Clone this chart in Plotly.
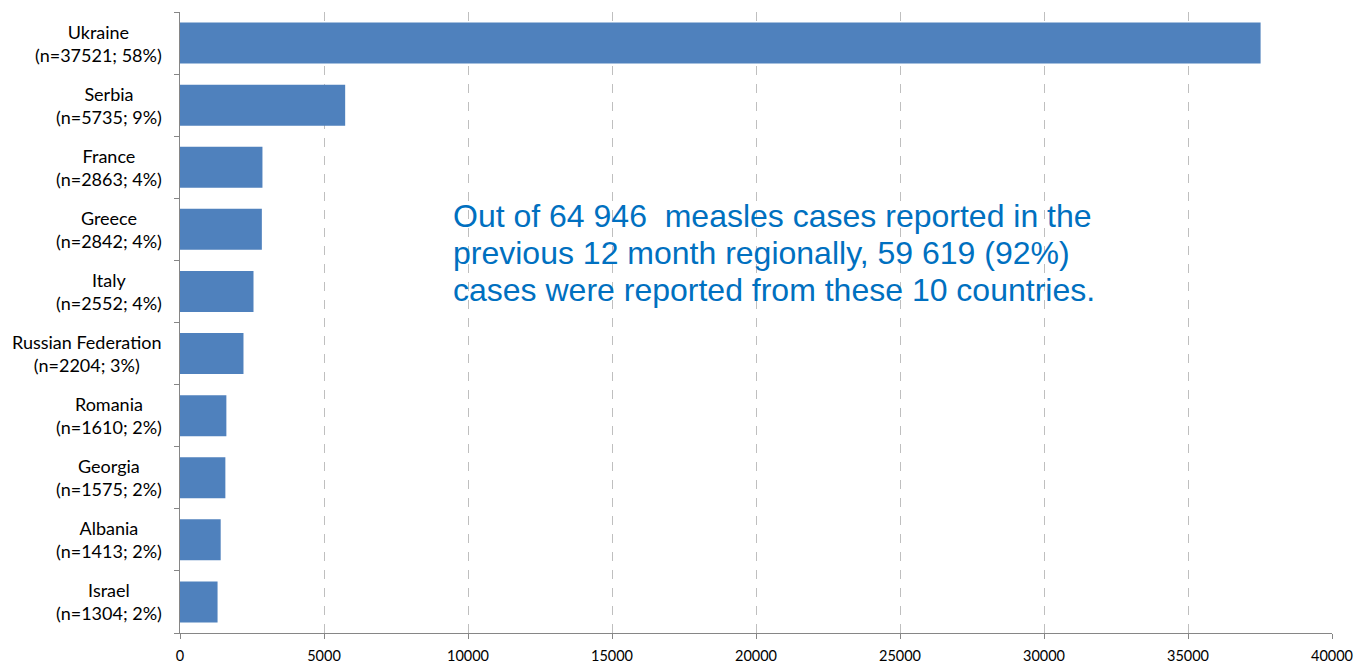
import plotly.graph_objects as go

countries = ["Ukraine", "Serbia", "France", "Greece", "Italy",
             "Russian Federation", "Romania", "Georgia", "Albania", "Israel"]
cases = [37521, 5735, 2863, 2842, 2552, 2204, 1610, 1575, 1413, 1304]
shares = ["58%", "9%", "4%", "4%", "4%", "3%", "2%", "2%", "2%", "2%"]
x_ticks = [0, 5000, 10000, 15000, 20000, 25000, 30000, 35000, 40000]
note_lines = ["Out of 64 946  measles cases reported in the",
              "previous 12 month regionally, 59 619 (92%)",
              "cases were reported from these 10 countries."]

fig = go.Figure(go.Bar(
    x=cases, y=countries, orientation="h",
    marker=dict(color="#4F81BD", line=dict(width=0)),
    width=0.66,
))

label_font = dict(family="Lato, Carlito, Calibri, sans-serif", size=18, color="#000000")
for c, n, s in zip(countries, cases, shares):
    fig.add_annotation(
        x=0, xref="paper", y=c, yref="y",
        text=f"{c}<br>(n={n}; {s})",
        xanchor="right", yanchor="middle", align="center",
        xshift=-16, showarrow=False, font=label_font,
    )

note_y = [0.6715, 0.6119, 0.5523]
for line, yy in zip(note_lines, note_y):
    fig.add_annotation(
        x=9420, xref="x", y=yy, yref="paper",
        text=line, xanchor="left", yanchor="middle", align="left",
        showarrow=False,
        font=dict(family="Liberation Sans, Arial, sans-serif", size=32, color="#0070C0"),
    )

# page body adds an 8px offset, so the figure is sized to fit the window
fig.update_layout(
    width=1354, height=658,
    margin=dict(l=172, r=30, t=4, b=33),
    paper_bgcolor="white", plot_bgcolor="white",
    showlegend=False,
    bargap=0.34,
)
fig.update_xaxes(
    range=[0, 40000], tickvals=x_ticks, ticktext=[str(v) for v in x_ticks],
    showgrid=True, gridcolor="#BFBFBF", griddash="dash", gridwidth=1,
    showline=True, linecolor="#868686", linewidth=1,
    ticks="outside", ticklen=5, tickcolor="#868686",
    ticklabelstandoff=5,
    tickfont=dict(family="Lato, Carlito, Calibri, sans-serif", size=14.5, color="#000000"),
    zeroline=False, fixedrange=True, automargin=False,
)
fig.update_yaxes(
    categoryorder="array", categoryarray=countries[::-1],
    showticklabels=False, showgrid=False,
    showline=True, linecolor="#868686", linewidth=1,
    ticks="outside", ticklen=5, tickcolor="#868686", tickson="boundaries",
    zeroline=False, fixedrange=True, automargin=False,
)

fig.write_html("out.html")
